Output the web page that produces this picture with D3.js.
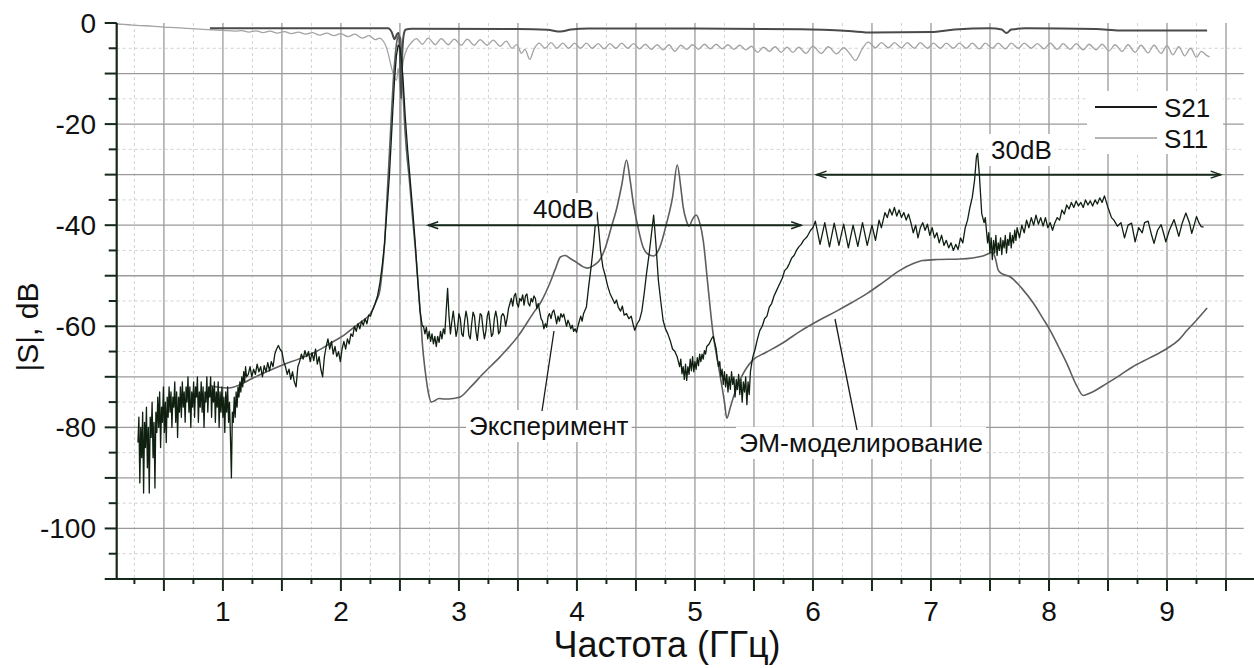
<!DOCTYPE html>
<html>
<head>
<meta charset="utf-8">
<script src="https://cdn.jsdelivr.net/npm/d3@7"></script>
<style>
  body { margin: 0; background: #fff; }
  svg { display: block; }
  text { font-family: "Liberation Sans", Arial, sans-serif; fill: #111; }
</style>
</head>
<body>
<svg id="chart" width="1254" height="668"></svg>
<script>
// ---- axis ticks ----
const xLabelTicks = [1, 2, 3, 4, 5, 6, 7, 8, 9];
const yLabelTicks = [0, -20, -40, -60, -80, -100];
const legendNames = ["S21", "S11"];

// ---- measured S21 (noisy trace), evenly sampled stretches ----
const measLowStart = 0.28, measLowStep = 0.008;
const measLowDb = [
  -83,-78,-91,-80,-86,-77,-93,-79,-84,-76,-88,-80,-93,-78,-82,-75,-86,-79,-92,-77,
  -81,-74,-80,-73,-84,-76,-79,-72,-81,-75,-83,-74,-78,-72,-77,-73,-80,-74,-76,-71,
  -79,-73,-82,-74,-77,-72,-78,-71,-76,-73,-79,-72,-75,-70,-77,-72,-80,-73,-76,-71,
  -78,-72,-74,-70,-79,-73,-76,-71,-77,-72,-80,-73,-75,-70,-77,-72,-74,-70,-78,-72,
  -75,-71,-79,-73,-76,-71,-80,-73,-77,-72,-78,-74,-81,-73,-77,-72,-79,-75,-82,-90,
  -77,-79,-74,-78,-73,-76,-72,-74,-71,-73,-70,-72,-69,-71,-68,-70
];
const measMidStart = 1.215, measMidStep = 0.015;
const measMidDb = [
  -69.5,-68.0,-70.0,-68.5,-69.5,-67.5,-69.0,-68.0,-70.0,-67.8,-69.0,-67.2,-68.8,-67.0,-68.0,
  -65.5,-64.5,-63.8,-64.6,-65.0,-67.0,-68.0,-69.5,-68.5,-70.5,-69.0,-71.0,-72.0,-68.0,-67.0,
  -65.5,-66.5,-64.8,-66.0,-65.0,-67.0,-65.2,-66.8,-64.5,-67.5,-66.0,-68.5,-70.0,-66.0,-64.0,
  -62.5,-64.5,-63.0,-65.5,-64.0,-66.0,-65.0,-67.0,-64.5,-63.0,-64.5,-62.5,-63.5,-61.5,-62.0,
  -60.0,-61.0,-59.5,-60.5,-59.0,-59.8,-58.5,-59.5,-57.8,-58.0
];
const measPassband = [
  [2.265,-57],[2.29,-55.5],[2.31,-54],[2.33,-51.5],[2.35,-48],[2.37,-43.6],[2.39,-37],
  [2.41,-30.5],[2.425,-24],[2.44,-17.2],[2.455,-11],[2.47,-6.5],[2.485,-4.4],[2.50,-4.8],
  [2.515,-7.5],[2.53,-12.5],[2.545,-18.5],[2.565,-25],[2.585,-30.5],[2.61,-37.5],
  [2.63,-43.6],[2.65,-50.5],[2.67,-57],[2.69,-60]
];
const measStopStart = 2.70, measStopStep = 0.012;
const measStopDb = [
  -60.0,-61.5,-60.2,-62.5,-61.0,-63.0,-61.5,-63.5,-62.0,-64.0,-62.0,-63.2,-61.0,-62.5,-60.5,
  -61.5,-57.0,-52.5,-58.0,-61.5,-59.0,-57.0,-59.5,-62.0,-60.5,-57.5,-58.5,-61.5,-62.0,-59.0,
  -57.0,-58.5,-61.8,-62.5,-59.5,-57.2,-58.0,-61.0,-62.8,-60.0,-57.5,-57.8,-60.5,-62.5,-61.0,
  -58.0,-57.0,-59.5,-62.0,-61.5,-58.5,-57.0,-58.5,-61.5,-61.0,-58.0,-57.5,-58.0,-60.0,-58.5,
  -56.5,-55.5,-54.5,-56.0,-54.0,-53.5,-55.5,-56.2,-54.5,-55.0,-53.8,-55.8,-54.0,-53.6,-55.5,
  -56.0,-54.5,-55.2,-54.0,-54.5,-56.5,-55.5,-57.0,-58.5,-59.0,-60.5,-59.5,-60.2,-58.0,-57.5,
  -58.5,-57.2,-56.8,-58.0,-59.5,-58.0,-59.0,-57.5,-58.2,-57.6,-58.8,-60.0,-58.8,-59.5,-60.5,
  -59.8,-61.0,-60.5,-61.2,-60.0,-59.0,-58.0,-59.0,-57.5
];
const measUpper = [
  [4.08,-56.2],[4.10,-52],[4.12,-48.3],[4.14,-44],[4.155,-40],[4.17,-37.4],[4.185,-41],
  [4.20,-45],[4.22,-48.3],[4.24,-50],[4.26,-52],[4.28,-53.5],[4.30,-54.5],[4.32,-55.5],
  [4.335,-54.8],[4.35,-56.2],[4.37,-57],[4.385,-56],[4.40,-57.8],[4.42,-57.5],[4.44,-58.5],
  [4.46,-58],[4.48,-60],[4.49,-60.8],[4.51,-59.5],[4.53,-58.8],[4.55,-57],[4.57,-53.5],
  [4.59,-49.5],[4.61,-46],[4.63,-42],[4.65,-38],[4.67,-44],[4.69,-50.9],[4.71,-55],
  [4.73,-58.8],[4.75,-60.5],[4.77,-61.5],[4.79,-62.8],[4.81,-64.5],[4.83,-65],[4.85,-66.1],
  [4.87,-68],[4.88,-66.5],[4.89,-69.4],[4.90,-68],[4.91,-70.5],[4.92,-67.5],[4.93,-70.7],
  [4.94,-68],[4.95,-69.5],[4.96,-66.5],[4.97,-68.8],[4.98,-66],[4.99,-69],[5.00,-67],
  [5.01,-68.5],[5.02,-66.2],[5.03,-67.8],[5.04,-65.5],[5.05,-67],[5.06,-65.5],[5.07,-66.5],
  [5.08,-64.8],[5.09,-65.5],[5.10,-64],[5.12,-63.5],[5.14,-62.5],[5.155,-62],[5.17,-63.5],
  [5.18,-64.5],[5.19,-66.5],[5.20,-68],[5.21,-67],[5.22,-70],[5.23,-68.5],[5.24,-71.5],
  [5.25,-69],[5.26,-72],[5.27,-69.5],[5.28,-73],[5.29,-70],[5.30,-72.5],[5.31,-69],
  [5.32,-71.5],[5.33,-70],[5.34,-74],[5.35,-70.5],[5.36,-72.5],[5.37,-69.5],[5.38,-73.5],
  [5.39,-70.5],[5.40,-75],[5.41,-71],[5.42,-73],[5.43,-70],[5.44,-75.5],[5.45,-71],
  [5.46,-73.5],[5.47,-69],[5.48,-67.5],[5.49,-66.1],[5.51,-64.5],[5.53,-62.5],[5.55,-60.8],
  [5.57,-60],[5.59,-58.5],[5.61,-58],[5.63,-56.2],[5.65,-55.5],[5.67,-54],[5.69,-53],
  [5.71,-52],[5.72,-51.5],[5.74,-50.5],[5.76,-49],[5.78,-48.5],[5.80,-47.6],[5.82,-46.5],
  [5.84,-46],[5.86,-45],[5.88,-44.3],[5.90,-43.8],[5.92,-43],[5.95,-42.3],[5.98,-41],
  [6.00,-40.5],[6.02,-39.2],[6.06,-43.8],[6.10,-39.5],[6.14,-44.3],[6.18,-39.6],[6.22,-44.0],
  [6.26,-39.8],[6.30,-44.5],[6.34,-40.0],[6.38,-44.2],[6.42,-39.5],[6.46,-44.0],[6.50,-40.0],
  [6.53,-43.0],[6.56,-39.0],[6.58,-40.5],[6.61,-37.5],[6.63,-38.5],[6.65,-36.8],[6.67,-38.0],
  [6.69,-36.5],[6.71,-38.2],[6.73,-37.0],[6.75,-38.5],[6.77,-37.5],[6.79,-39.0],[6.81,-37.8],
  [6.83,-39.5],[6.85,-41.5],[6.87,-40.0],[6.89,-42.5],[6.91,-40.5],[6.93,-39.5],[6.95,-41.0],
  [6.97,-39.8],[6.99,-42.0],[7.01,-40.5],[7.03,-42.5],[7.05,-41.5],[7.07,-43.5],[7.09,-42.0],
  [7.11,-44.0],[7.13,-43.0],[7.15,-44.5],[7.17,-43.5],[7.19,-45.0],[7.21,-43.8],[7.23,-44.8],
  [7.25,-42.5],[7.27,-43.5],[7.29,-40.5],[7.31,-39.0],[7.33,-36.5],[7.35,-34.5],[7.37,-31.0],
  [7.385,-26.5],[7.395,-25.8],[7.41,-30],[7.43,-37.7],[7.45,-39.5],[7.46,-38.5],[7.47,-41.0],
  [7.48,-43.5],[7.49,-41.5],[7.50,-45.5],[7.51,-42.5],[7.52,-46.8],[7.53,-43.0],[7.54,-45.5],
  [7.55,-42.0],[7.56,-46.0],[7.57,-43.5],[7.58,-45.0],[7.59,-42.5],[7.60,-45.8],[7.61,-43.0],
  [7.62,-44.5],[7.63,-42.0],[7.64,-45.5],[7.65,-42.8],[7.66,-44.0],[7.67,-41.5],[7.68,-44.5],
  [7.69,-42.0],[7.70,-43.5],[7.71,-41.0],[7.72,-43.0],[7.73,-40.5],[7.75,-42.5],[7.77,-40.0],
  [7.79,-41.5],[7.81,-39.0],[7.83,-40.5],[7.85,-38.5],[7.87,-40.0],[7.89,-38.0],[7.91,-39.8],
  [7.93,-38.5],[7.95,-40.2],[7.97,-38.5],[7.99,-40.5],[8.01,-39.5],[8.03,-41.0],[8.05,-39.5],
  [8.07,-38.5],[8.09,-39.0],[8.11,-37.0],[8.13,-37.8],[8.15,-36.0],[8.17,-36.8],[8.19,-35.5],
  [8.21,-36.5],[8.23,-35.2],[8.25,-36.2],[8.27,-35.5],[8.29,-36.5],[8.31,-35.0],[8.33,-36.0],
  [8.35,-35.2],[8.37,-36.2],[8.39,-35.0],[8.41,-35.8],[8.43,-34.6],[8.45,-35.5],[8.47,-34.2],
  [8.50,-36.5],[8.53,-38.5],[8.55,-39.0],[8.58,-40.2],[8.61,-39.5],[8.64,-42.5],[8.67,-40.0],
  [8.70,-39.6],[8.73,-43.3],[8.76,-40.5],[8.79,-41.5],[8.81,-39.5],[8.84,-39.2],[8.87,-42.0],
  [8.89,-43.6],[8.92,-41.0],[8.95,-39.9],[8.97,-41.5],[8.99,-43.3],[9.02,-41.0],[9.06,-38.9],
  [9.08,-40.5],[9.10,-42.2],[9.13,-39.5],[9.16,-37.6],[9.19,-39.5],[9.21,-41.6],[9.23,-40.0],
  [9.25,-38.3],[9.27,-39.5],[9.29,-40.3],[9.31,-40.4]
];

// ---- EM-simulated S21 ----
const simS21 = [
  [0.89,-71.7],[0.95,-72.0],[1.05,-72.2],[1.15,-71.5],[1.25,-70.3],[1.37,-69.0],[1.5,-67.7],
  [1.65,-66.4],[1.8,-64.9],[1.93,-63.1],[2.03,-61.7],[2.1,-60.4],[2.18,-59.0],[2.25,-57.5],
  [2.3,-55.0],[2.33,-52.9],[2.35,-49],[2.37,-43.6],[2.385,-37],[2.40,-30.5],[2.415,-24],
  [2.43,-17.2],[2.445,-11],[2.46,-6.5],[2.475,-3.5],[2.49,-2.5],[2.505,-3],[2.515,-7],
  [2.525,-13],[2.54,-20],[2.555,-25],[2.58,-31],[2.605,-38],[2.63,-44.5],[2.655,-52],
  [2.675,-58],[2.69,-63.4],[2.715,-69],[2.74,-73],[2.765,-75],[2.79,-74.8],[2.83,-74.3],
  [2.88,-74.4],[2.95,-74.3],[3.01,-74],[3.1,-72],[3.2,-69.5],[3.35,-66],[3.5,-62],
  [3.63,-57.4],[3.7,-55],[3.77,-51.5],[3.82,-48.5],[3.86,-46.3],[3.9,-46],[3.95,-46.7],
  [4.0,-47.4],[4.05,-48.2],[4.09,-48.5],[4.14,-48.0],[4.19,-47.0],[4.24,-44.5],[4.29,-40.5],
  [4.34,-36.4],[4.38,-32],[4.42,-27.1],[4.45,-31],[4.48,-36],[4.51,-39.6],[4.56,-44.3],
  [4.6,-45.7],[4.65,-46.1],[4.7,-44.5],[4.76,-39.6],[4.81,-34.5],[4.85,-28.1],[4.88,-32.5],
  [4.90,-36.4],[4.93,-39.3],[4.95,-40.2],[4.98,-38.8],[5.01,-38],[5.04,-39.5],[5.07,-43],
  [5.11,-52],[5.15,-60.8],[5.21,-69.3],[5.25,-75],[5.27,-78.2],[5.30,-76],[5.34,-73],
  [5.38,-70.7],[5.43,-68.5],[5.49,-66.7],[5.6,-65.2],[5.75,-63.2],[5.89,-61],[6.06,-58.7],
  [6.2,-57],[6.33,-55.3],[6.46,-53.5],[6.6,-51.2],[6.74,-48.9],[6.85,-47.6],[6.93,-47],
  [7.05,-46.8],[7.25,-46.7],[7.44,-46.1],[7.5,-45.5],[7.52,-45.3],[7.545,-46.5],[7.57,-48.9],
  [7.6,-49.6],[7.67,-50.2],[7.77,-52.5],[7.87,-55.5],[7.95,-58.5],[8.01,-60.8],[8.08,-64],
  [8.15,-67.3],[8.24,-72],[8.29,-73.7],[8.35,-73.2],[8.49,-71.3],[8.6,-69.7],[8.71,-68],
  [8.85,-66.3],[9.0,-64.4],[9.1,-62.7],[9.17,-60.8],[9.25,-58.8],[9.34,-56.4]
];

// ---- EM-simulated S11 (dark upper trace) ----
const simS11 = [
  [0.89,-1.05],[2.40,-1.05],[2.43,-1.8],[2.455,-3.2],[2.475,-2.2],[2.49,-2.0],[2.50,-6],
  [2.51,-15],[2.52,-6],[2.535,-2.0],[2.55,-1.3],[2.6,-1.15],[3.5,-1.2],[3.75,-1.35],
  [3.86,-1.7],[3.95,-1.3],[4.1,-1.1],[5.0,-1.1],[5.9,-1.25],[6.3,-1.6],[6.5,-1.9],
  [7.0,-1.8],[7.2,-1.3],[7.5,-1.05],[7.6,-1.3],[7.64,-2.0],[7.68,-1.3],[7.8,-1.05],
  [8.4,-1.2],[8.6,-1.5],[9.34,-1.5]
];

// ---- measured S11 (light rippled upper trace) ----
const measS11 = [
  [0.10,-0.2],[0.2,-0.35],[0.3,-0.5],[0.4,-0.6],[0.5,-0.8],[0.6,-0.9],[0.7,-1.05],[0.8,-1.2],
  [0.9,-1.35],[1.0,-1.45],[1.1,-1.6],[1.16,-1.5],[1.22,-1.8],[1.28,-1.55],[1.34,-1.9],
  [1.40,-1.6],[1.46,-2.0],[1.52,-1.7],[1.58,-2.1],[1.64,-1.8],[1.70,-2.2],[1.76,-1.9],
  [1.82,-2.4],[1.88,-2.0],[1.94,-2.5],[2.00,-2.1],[2.06,-2.7],[2.12,-2.2],[2.18,-3.0],
  [2.24,-2.5],[2.29,-3.3],[2.33,-3.0],[2.37,-4.0],[2.40,-6.0],[2.425,-8.5],[2.45,-10.5],
  [2.47,-11.3],[2.485,-9.0],[2.497,-12],[2.505,-32],[2.513,-12],[2.525,-8.0],[2.545,-6.0],
  [2.57,-4.7],[2.60,-3.8],[2.64,-3.1],[2.69,-4.2],[2.74,-3.0],[2.80,-4.3],[2.85,-3.1],
  [2.91,-4.3],[2.96,-3.2],[3.02,-4.4],[3.07,-3.2],[3.13,-4.4],[3.18,-3.3],[3.24,-4.4],
  [3.29,-3.4],[3.35,-4.6],[3.40,-3.6],[3.45,-5.0],[3.49,-4.3],[3.53,-6.0],[3.56,-5.2],
  [3.60,-7.2],[3.64,-5.0],[3.68,-4.0],[3.73,-5.0],[3.78,-3.9],[3.83,-5.0],[3.88,-4.0],
  [3.93,-5.0],[3.98,-4.0],[4.03,-5.0],[4.08,-4.0],[4.13,-5.0],[4.18,-4.1],[4.23,-5.1],
  [4.28,-4.1],[4.33,-5.0],[4.38,-4.0],[4.43,-5.0],[4.48,-4.1],[4.53,-5.1],[4.58,-4.2],
  [4.63,-5.2],[4.68,-4.3],[4.73,-5.3],[4.78,-4.3],[4.83,-5.6],[4.88,-4.4],[4.93,-5.2],
  [4.98,-4.3],[5.03,-5.2],[5.08,-4.2],[5.13,-5.1],[5.18,-4.2],[5.23,-5.1],[5.28,-4.3],
  [5.33,-5.2],[5.38,-4.4],[5.43,-5.3],[5.48,-4.6],[5.53,-5.8],[5.58,-4.8],[5.63,-5.6],
  [5.68,-4.7],[5.73,-5.8],[5.78,-4.8],[5.83,-5.8],[5.88,-4.8],[5.94,-6.0],[6.00,-4.6],
  [6.07,-6.0],[6.13,-4.7],[6.20,-6.1],[6.26,-4.9],[6.31,-6.0],[6.36,-7.4],[6.42,-5.0],
  [6.47,-3.8],[6.53,-4.9],[6.58,-3.9],[6.64,-4.9],[6.69,-3.9],[6.75,-4.9],[6.80,-3.9],
  [6.86,-5.0],[6.91,-3.9],[6.97,-5.0],[7.02,-4.0],[7.08,-5.0],[7.13,-4.0],[7.19,-5.0],
  [7.24,-4.0],[7.30,-5.0],[7.35,-4.0],[7.41,-5.1],[7.46,-4.0],[7.52,-5.0],[7.57,-4.0],
  [7.63,-5.1],[7.68,-4.0],[7.74,-5.0],[7.79,-4.0],[7.85,-5.0],[7.90,-4.1],[7.96,-5.1],
  [8.01,-4.0],[8.07,-5.2],[8.12,-4.1],[8.18,-5.2],[8.23,-4.1],[8.29,-5.3],[8.34,-4.2],
  [8.40,-5.3],[8.45,-4.2],[8.51,-5.5],[8.56,-4.3],[8.62,-5.6],[8.67,-4.3],[8.73,-5.8],
  [8.78,-4.4],[8.84,-5.9],[8.89,-4.4],[8.95,-6.0],[9.00,-4.5],[9.05,-6.3],[9.10,-4.7],
  [9.15,-6.5],[9.20,-5.0],[9.25,-6.8],[9.29,-5.6],[9.33,-6.3],[9.36,-6.7]
];

// ---- rejection-level markers: [from GHz, to GHz, level dB, caption] ----
const spanMarks = [
  [2.74, 5.90, -40, "40dB"],
  [6.03, 9.455, -30, "30dB"]
];

// ---------------------------------------------------------------
const svg = d3.select("#chart");
const x = d3.scaleLinear().domain([0.1, 9.65]).range([116.7, 1243.7]);
const y = d3.scaleLinear().domain([-110, 0]).range([579, 23]);
const axisColor = "#16281a";

const evenly = (start, step, vals) => vals.map((v, i) => [start + i * step, v]);
const measS21 = [].concat(
  evenly(measLowStart, measLowStep, measLowDb),
  evenly(measMidStart, measMidStep, measMidDb),
  measPassband,
  evenly(measStopStart, measStopStep, measStopDb),
  measUpper
);

// ---- grid ----
const grid = svg.append("g");
const quarter = d3.range(1, 39).map(i => i * 0.25).filter(f => f <= 9.6);
const isMajorX = d => Math.round(d * 4) % 2 === 0;
grid.selectAll("line.vx").data(quarter).join("line")
  .attr("x1", d => x(d)).attr("x2", d => x(d))
  .attr("y1", y(0)).attr("y2", y(-110))
  .attr("stroke", d => isMajorX(d) ? "#9a9a9a" : "#d2d2d2")
  .attr("stroke-width", d => isMajorX(d) ? 1.3 : 1)
  .attr("stroke-dasharray", d => isMajorX(d) ? null : "3,3");
const fives = d3.range(-105, 0, 5);
grid.selectAll("line.hy").data(fives).join("line")
  .attr("x1", x(0.1)).attr("x2", x(9.65))
  .attr("y1", d => y(d)).attr("y2", d => y(d))
  .attr("stroke", d => (d % 10 === 0) ? "#9a9a9a" : "#d2d2d2")
  .attr("stroke-width", d => (d % 10 === 0) ? 1.3 : 1)
  .attr("stroke-dasharray", d => (d % 10 === 0) ? null : "3,3");

// white backing under legend and captions (grid does not show through)
const boxes = svg.append("g").attr("fill", "#fff");
boxes.append("rect").attr("x", 1087).attr("y", 91).attr("width", 136).attr("height", 63);

// ---- curves ----
const lineOf = curve => d3.line().x(d => x(d[0])).y(d => y(d[1])).curve(curve);
const curves = svg.append("g").attr("fill", "none").attr("stroke-linejoin", "round");
curves.append("path").datum(measS11).attr("d", lineOf(d3.curveCatmullRom))
  .attr("stroke", "#a3a3a3").attr("stroke-width", 1.3);
curves.append("path").datum(simS11).attr("d", lineOf(d3.curveMonotoneX))
  .attr("stroke", "#4a4a4a").attr("stroke-width", 2);
curves.append("path").datum(simS21).attr("d", lineOf(d3.curveMonotoneX))
  .attr("stroke", "#5e5e5e").attr("stroke-width", 1.6);
curves.append("path").datum(measS21).attr("d", lineOf(d3.curveLinear))
  .attr("stroke", "#0f1f10").attr("stroke-width", 1.3);

// ---- axes ----
const axes = svg.append("g").attr("stroke", axisColor);
axes.append("line").attr("x1", x(0.1)).attr("x2", x(0.1)).attr("y1", y(0)).attr("y2", y(-110)).attr("stroke-width", 2.2);
axes.append("line").attr("x1", 105).attr("x2", 1254).attr("y1", y(-110)).attr("y2", y(-110)).attr("stroke-width", 2.2);
axes.selectAll("line.yt").data(d3.range(0, -111, -5)).join("line")
  .attr("x1", d => x(0.1) - (d % 10 === 0 ? 12 : 8)).attr("x2", x(0.1))
  .attr("y1", d => y(d)).attr("y2", d => y(d)).attr("stroke-width", 2);
axes.selectAll("line.xt").data(quarter).join("line")
  .attr("x1", d => x(d)).attr("x2", d => x(d))
  .attr("y1", y(-110)).attr("y2", d => y(-110) + (isMajorX(d) ? 12 : 5))
  .attr("stroke-width", 2);

const labels = svg.append("g").style("font-size", "28px");
labels.selectAll("text.yl").data(yLabelTicks).join("text")
  .attr("x", 96).attr("y", d => y(d) + 10).attr("text-anchor", "end").text(d => d);
labels.selectAll("text.xl").data(xLabelTicks).join("text")
  .attr("x", d => x(d)).attr("y", 621).attr("text-anchor", "middle").text(d => d);

svg.append("text").attr("x", 667).attr("y", 657).attr("text-anchor", "middle")
  .style("font-size", "36px").text("Частота (ГГц)");
svg.append("text").attr("transform", "translate(38,327) rotate(-90)").attr("text-anchor", "middle")
  .style("font-size", "30px").text("|S|, dB");

// ---- captions (drawn over a white patch) ----
function caption(g, tx, ty, size, str) {
  const t = g.append("text").attr("x", tx).attr("y", ty).style("font-size", size + "px").text(str);
  const b = t.node().getBBox();
  g.insert("rect", "text").attr("x", b.x - 3).attr("y", b.y - 1)
    .attr("width", b.width + 6).attr("height", b.height + 2).attr("fill", "#fff");
  return t;
}

// ---- rejection-level arrows ----
const marks = svg.append("g");
caption(marks, 533, 218, 26, spanMarks[0][3]);
caption(marks, 991, 159, 26, spanMarks[1][3]);
spanMarks.forEach(([f0, f1, lvl]) => {
  const yy = y(lvl), xa = x(f0), xb = x(f1);
  marks.append("line").attr("x1", xa).attr("x2", xb).attr("y1", yy).attr("y2", yy)
    .attr("stroke", axisColor).attr("stroke-width", 2);
  marks.append("path").attr("d", `M${xa + 10},${yy - 3.5}L${xa},${yy}L${xa + 10},${yy + 3.5}`)
    .attr("fill", "none").attr("stroke", axisColor).attr("stroke-width", 1.5);
  marks.append("path").attr("d", `M${xb - 10},${yy - 3.5}L${xb},${yy}L${xb - 10},${yy + 3.5}`)
    .attr("fill", "none").attr("stroke", axisColor).attr("stroke-width", 1.5);
});

// ---- trace captions with pointers ----
const notes = svg.append("g");
caption(notes, 469, 435, 26, "Эксперимент");
caption(notes, 739, 452, 26.5, "ЭМ-моделирование");
notes.append("line").attr("x1", 542).attr("y1", 411).attr("x2", 554).attr("y2", 331)
  .attr("stroke", "#1a1a1a").attr("stroke-width", 1.3);
notes.append("line").attr("x1", 857).attr("y1", 430).attr("x2", 835).attr("y2", 319)
  .attr("stroke", "#1a1a1a").attr("stroke-width", 1.3);

// ---- legend ----
const legend = svg.append("g");
legendNames.forEach((name, i) => {
  const ly = 107 + i * 31;
  legend.append("line").attr("x1", 1095).attr("x2", 1157).attr("y1", ly).attr("y2", ly)
    .attr("stroke", i === 0 ? "#1a1a1a" : "#b5b5b5").attr("stroke-width", 1.8);
  legend.append("text").attr("x", 1164).attr("y", ly + 10).style("font-size", "26px").text(name);
});
</script>
</body>
</html>
